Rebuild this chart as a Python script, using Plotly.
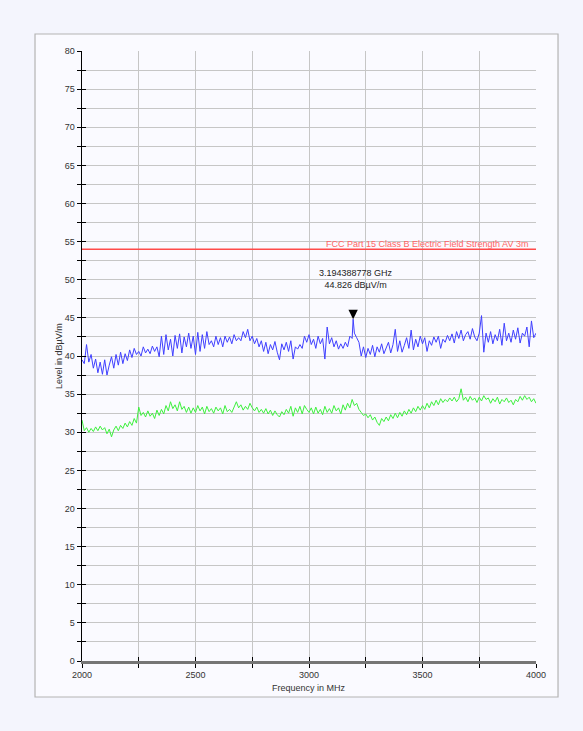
import numpy as np
import plotly.graph_objects as go

# ---------------- data ----------------
f_start, f_stop, n_points = 2000, 4000, 201
freqs = list(np.linspace(f_start, f_stop, n_points))

peak_level = [
    39.5, 39.0, 41.5, 39.2, 40.2, 38.4, 39.6, 37.8, 39.2, 37.6,
    39.5, 37.5, 38.8, 39.9, 38.4, 40.2, 38.8, 40.5, 39.0, 40.3,
    39.4, 40.8, 39.8, 41.0, 40.2, 40.6, 40.0, 41.2, 40.4, 40.9,
    40.3, 41.3, 40.6, 41.2, 39.9, 42.6, 40.2, 42.8, 40.8, 42.2,
    40.0, 42.7, 41.0, 42.9, 40.4, 42.5, 41.2, 43.0, 41.0, 42.6,
    40.2, 43.1, 40.6, 42.8, 41.0, 43.2, 41.5, 42.0, 41.2, 42.6,
    41.5, 42.4, 41.2, 42.6, 41.8, 42.5, 41.6, 42.8, 42.0, 42.4,
    42.0, 43.2, 42.4, 43.5, 42.0, 42.6, 41.6, 42.3, 41.2, 42.0,
    40.6, 41.8, 40.3, 41.5, 40.8, 41.9, 40.5, 39.5, 41.6, 40.8,
    41.8, 40.6, 42.0, 39.6, 41.2, 40.9, 41.5, 41.0, 42.6, 41.8,
    42.8, 41.5, 42.2, 41.0, 42.6, 41.6, 42.3, 39.6, 43.8, 41.6,
    42.4, 41.2, 42.0, 40.9, 41.6, 41.0, 41.8, 41.2, 42.6, 42.3,
    43.0, 42.4, 41.8, 40.0, 41.2, 39.8, 41.0, 40.2, 41.4, 39.9,
    41.2, 40.5, 41.6, 40.3, 41.0, 41.8, 40.4, 41.5, 43.5, 40.6,
    42.0, 40.5, 41.4, 42.4, 41.0, 43.4, 40.8, 42.2, 41.2, 42.6,
    41.6, 42.4, 40.6, 42.0, 41.4, 42.5, 41.8, 42.6, 41.0, 42.2,
    41.8, 42.7, 42.0, 42.9, 41.7, 43.2, 42.3, 43.4, 42.0, 42.8,
    43.2, 42.2, 43.6, 42.5, 42.0, 43.0, 45.3, 40.5, 43.0, 41.8,
    43.2, 41.6, 42.8, 42.0, 43.5, 41.4, 44.3, 42.0, 43.0, 41.8,
    43.4, 42.2, 43.7, 41.7, 43.0, 42.6, 43.8, 41.2, 44.6, 42.4,
    43.0,
]

avg_level = [
    31.6, 30.2, 30.6, 30.0, 30.5, 30.1, 30.7, 30.2, 30.8, 30.3,
    30.6, 29.8, 30.4, 29.4, 30.3, 30.8, 30.2, 30.9, 30.5, 31.2,
    30.7, 31.4, 30.9, 31.8, 31.2, 33.3, 32.2, 32.6, 32.0, 32.8,
    32.1, 32.5, 31.8, 32.9, 32.2, 33.0, 32.4, 33.5, 32.8, 34.0,
    33.1, 33.6, 32.8, 34.0, 33.0, 33.4, 32.6, 33.3, 32.5, 33.2,
    32.6, 33.5, 32.8, 33.3, 32.4, 33.4, 32.7, 33.1, 32.5, 33.3,
    32.8, 33.2, 32.4, 33.5, 32.7, 33.0, 32.6, 33.3, 34.0, 33.2,
    33.6, 32.9, 33.4, 33.0, 33.8, 33.2, 32.8, 33.3, 32.6, 33.0,
    32.5, 33.1, 32.4, 32.9, 32.2, 32.8, 32.3, 32.0, 32.7, 32.3,
    33.0, 32.5, 33.4, 32.1, 33.2, 32.6, 33.4, 32.4, 33.5, 33.0,
    32.6, 33.2, 32.4, 33.3, 32.5, 33.0, 32.3, 33.4, 32.6, 33.1,
    32.5, 33.5, 32.8, 33.2, 32.4, 33.6, 32.9, 33.8, 33.2, 34.3,
    33.5, 33.8, 33.0, 32.6, 32.2, 32.4, 31.9, 32.3, 31.6, 32.0,
    31.3, 30.9, 31.8, 31.4, 32.0, 31.5, 32.3, 31.8, 32.5, 31.9,
    32.6, 32.1, 32.8, 32.3, 33.0, 32.5, 33.2, 32.7, 33.4, 32.9,
    33.5, 33.0, 33.8, 33.2, 34.0, 33.5, 34.2, 33.6, 34.4, 33.9,
    34.3, 34.0, 34.5, 34.1, 34.6, 34.0, 34.4, 35.7, 34.2, 34.6,
    34.0, 34.7, 34.2, 34.5, 33.9, 34.6, 34.1, 34.8, 34.3, 34.5,
    33.8, 34.4, 34.0, 34.6, 33.7, 34.3, 34.0, 34.5, 33.9, 34.2,
    33.6, 34.3, 34.0, 34.7, 34.2, 34.8, 34.3, 34.6, 34.0, 34.4,
    33.8,
]

marker_freq_mhz = 3194.388778
marker_level = 44.826
marker_label = ["3.194388778 GHz", "44.826 dBµV/m"]

limit_level = 54.0
limit_label = "FCC Part 15 Class B Electric Field Strength AV 3m"

x_range = [2000, 4000]
y_range = [0, 80]

# include the marker point in the peak trace
pts = sorted(list(zip(freqs, peak_level)) + [(marker_freq_mhz, marker_level)])
peak_x = [p[0] for p in pts]
peak_y = [p[1] for p in pts]

FONT = "Liberation Sans, Arial, sans-serif"

fig = go.Figure()

fig.add_trace(go.Scatter(x=freqs, y=avg_level, mode="lines",
                         line=dict(color="#3df03d", width=1), hoverinfo="skip"))
fig.add_trace(go.Scatter(x=peak_x, y=peak_y, mode="lines",
                         line=dict(color="#3f3fff", width=1), hoverinfo="skip"))
fig.add_trace(go.Scatter(x=x_range, y=[limit_level, limit_level], mode="lines",
                         line=dict(color="#ff4a4a", width=1.6), hoverinfo="skip"))
# dummy trace on overlay axes (for crossing ticks)
fig.add_trace(go.Scatter(x=[None], y=[None], xaxis="x2", yaxis="y2",
                         hoverinfo="skip"))

grid_color = "#c6c6c6"

fig.update_layout(
    width=583, height=731,
    margin=dict(l=82, r=47, t=51, b=70),
    paper_bgcolor="#f4f5fd",
    plot_bgcolor="#fafaff",
    showlegend=False,
    hovermode=False,
    font=dict(family=FONT, size=9, color="#333333"),
    xaxis=dict(
        range=x_range, dtick=500, tick0=2000,
        showgrid=True, gridcolor=grid_color, gridwidth=1,
        ticks="outside", ticklen=4, tickcolor="black", tickwidth=1,
        showline=True, linecolor="#757575", linewidth=2.5,
        minor=dict(dtick=250, showgrid=True, gridcolor=grid_color, gridwidth=1,
                   ticks="outside", ticklen=4, tickcolor="black"),
        tickfont=dict(size=9, color="#333333"),
        zeroline=False, fixedrange=True,
    ),
    yaxis=dict(
        range=y_range, dtick=5, tick0=0,
        showgrid=True, gridcolor=grid_color, gridwidth=1,
        ticks="outside", ticklen=4, tickcolor="black", tickwidth=1,
        showline=True, linecolor="black", linewidth=1.5,
        minor=dict(dtick=2.5, showgrid=True, gridcolor=grid_color, gridwidth=1,
                   ticks="outside", ticklen=4, tickcolor="black"),
        tickfont=dict(size=9, color="#333333"),
        zeroline=False, fixedrange=True,
    ),
    xaxis2=dict(range=x_range, overlaying="x", anchor="y2", side="bottom",
                dtick=250, tick0=2000, ticks="inside", ticklen=4, tickcolor="black",
                showticklabels=False, showgrid=False, showline=False, zeroline=False,
                fixedrange=True),
    yaxis2=dict(range=y_range, overlaying="y", anchor="x2", side="left",
                dtick=2.5, tick0=0, ticks="inside", ticklen=4, tickcolor="black",
                showticklabels=False, showgrid=False, showline=False, zeroline=False,
                fixedrange=True),
    shapes=[
        dict(type="rect", xref="paper", yref="paper",
             x0=-0.1035, x1=1.0485, y0=-0.059, y1=1.0279,
             line=dict(color="#b4b4b4", width=1.2), fillcolor="#fafaff",
             layer="below"),
    ],
    annotations=[
        dict(x=0.5, y=0, xref="paper", yref="paper", text="Frequency in MHz",
             showarrow=False, yanchor="middle", yshift=-27,
             font=dict(size=9, color="#333333")),
        dict(x=0, y=0.5, xref="paper", yref="paper", text="Level in dBµV/m",
             showarrow=False, textangle=-90, xanchor="center", xshift=-23,
             font=dict(size=9, color="#333333")),
        dict(x=x_range[1], y=limit_level, xref="x", yref="y", text=limit_label,
             showarrow=False, xanchor="right", yanchor="middle", xshift=-6, yshift=5,
             font=dict(size=9, color="#ff6464")),
        # marker triangle with its tip on the peak
        dict(x=marker_freq_mhz, y=marker_level, xref="x", yref="y", text="",
             showarrow=True, arrowhead=2, arrowsize=1.25, arrowwidth=1.5,
             arrowcolor="black", ax=0, ay=-8, standoff=0),
        dict(x=marker_freq_mhz, y=marker_level, xref="x", yref="y",
             text="<br>".join(marker_label),
             showarrow=False, xanchor="center", yanchor="bottom", yshift=27,
             xshift=3, align="center", font=dict(size=9, color="#222222")),
    ],
)

fig.write_html("out.html",
               config={"displayModeBar": False, "staticPlot": True},
               post_script="document.body.style.margin='0';"
                           "document.body.style.overflow='hidden';")
